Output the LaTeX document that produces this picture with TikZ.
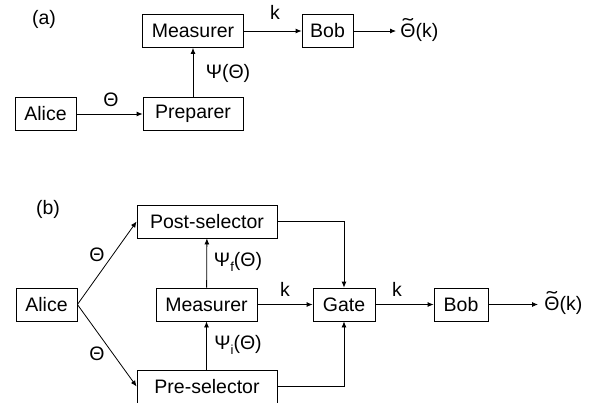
\documentclass[tikz,border=0pt]{standalone}
\usepackage{fontspec}
\setmainfont{Liberation Sans}
\usetikzlibrary{arrows.meta}

\newcommand{\tiltheta}{\ooalign{Θ\cr\hidewidth\raisebox{0.25em}{\scalebox{1.6}[1]{\char"02DC}}\hidewidth\cr}}

\tikzset{
  block/.style={draw, rectangle, minimum height=33pt, inner sep=0pt},
  conn/.style={draw, line width=0.8pt, -{Latex[length=6pt,width=5pt]}},
  lbl/.style={inner sep=0pt}
}

\begin{document}
\begin{tikzpicture}[x=1pt, y=-1pt, font=\fontsize{19.5}{23}\selectfont, line width=0.8pt]
\useasboundingbox (0,0) rectangle (597,402);

% (a)
\node[lbl] at (44,19) {(a)};
\node[block, minimum width=101pt] (measA) at (193,31) {Measurer};
\node[block, minimum width=51pt] (bobA) at (327.5,31) {Bob};
\node[block, minimum width=61pt] (aliceA) at (45.5,114) {Alice};
\node[block, minimum width=100pt] (prepA) at (193,114) {Preparer};
\node[lbl, anchor=west] (outA) at (400,32) {\tiltheta(k)};
\coordinate (endA) at (396,31);

\node[lbl] at (275,12) {k};
\node[lbl] at (111,100) {Θ};
\node[lbl] at (228,73) {Ψ(Θ)};

\path[conn] (aliceA) -- (prepA);
\path[conn] (prepA) -- (measA);
\path[conn] (measA) -- (bobA);
\path[conn] (bobA) -- (endA);

% (b)
\node[lbl] at (48,209) {(b)};
\node[block, minimum width=140pt] (postB) at (207,221.5) {Post-selector};
\node[block, minimum width=101pt] (measB) at (206.5,304.5) {Measurer};
\node[block, minimum width=61pt] (aliceB) at (46.5,304.5) {Alice};
\node[block, minimum width=140pt] (preB) at (207,386.5) {Pre-selector};
\node[block, minimum width=62pt] (gateB) at (344,304.5) {Gate};
\node[block, minimum width=54pt] (bobB) at (461,304.5) {Bob};
\node[lbl, anchor=west] (outB) at (544,305) {\tiltheta(k)};
\coordinate (endB) at (538,304.5);

\node[lbl] at (97,255) {Θ};
\node[lbl] at (97,354) {Θ};
\node[lbl] at (238,262) {Ψ\raisebox{-0.3em}{\fontsize{13}{15}\selectfont f}(Θ)};
\node[lbl] at (238,345) {Ψ\raisebox{-0.3em}{\fontsize{13}{15}\selectfont i}(Θ)};
\node[lbl] at (285,289) {k};
\node[lbl] at (397,289) {k};

\path[conn] (aliceB.east) -- (postB.west);
\path[conn] (aliceB.east) -- (preB.west);
\path[conn] (measB) -- (postB);
\path[conn] (preB.north -| measB) -- (measB);
\path[conn] (measB) -- (gateB);
\path[conn] (postB.east) -| (gateB.north);
\path[conn] (preB.east) -| (gateB.south);
\path[conn] (gateB) -- (bobB);
\path[conn] (bobB) -- (endB);
\end{tikzpicture}
\end{document}
